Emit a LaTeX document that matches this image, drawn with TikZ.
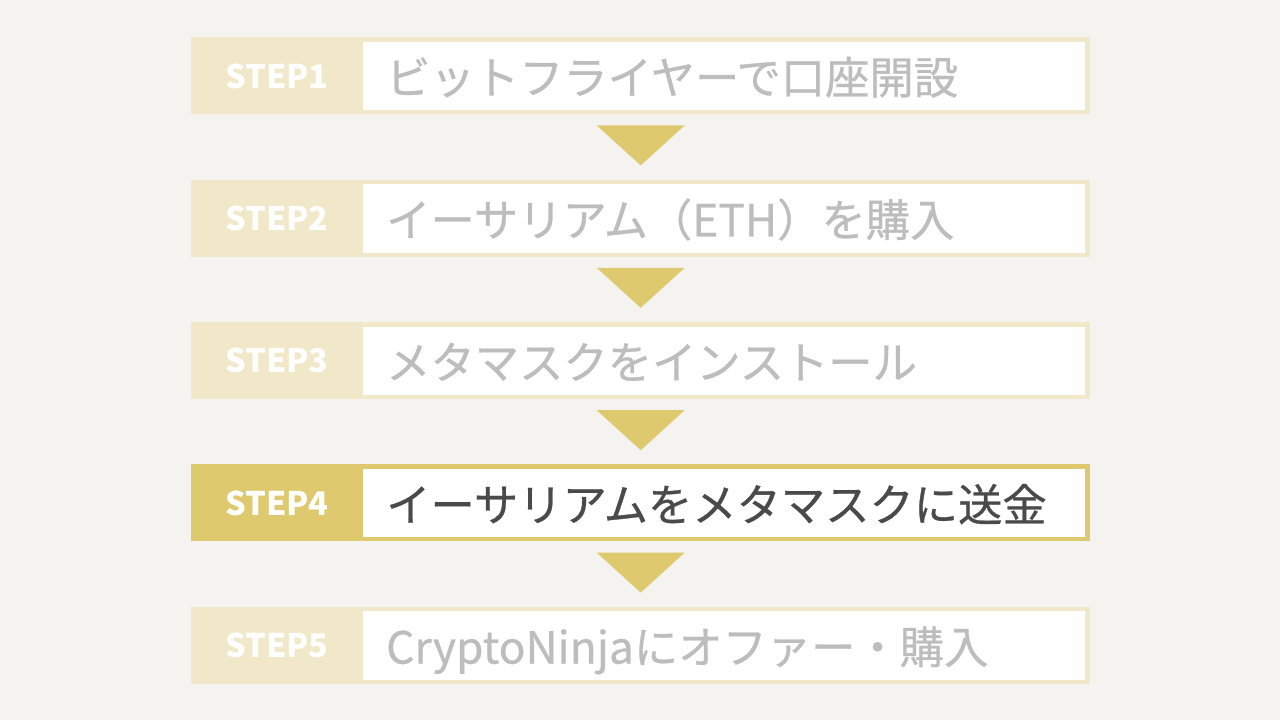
\documentclass[tikz,border=0pt]{standalone}
\usepackage{fontspec}
\setmainfont{Noto Sans CJK JP}
\newfontfamily\stepfont[FakeBold=0.6]{Noto Sans CJK JP}
\usetikzlibrary{positioning}
\definecolor{bgcol}{HTML}{F4F3EF}
\definecolor{palegold}{HTML}{F0E8C8}
\definecolor{gold}{HTML}{DEC96E}
\definecolor{greytext}{HTML}{BDBDBD}
\definecolor{darktext}{HTML}{4A4A4A}

\begin{document}
\begin{tikzpicture}[x=1pt,y=-1pt,
  stepbar/.style={fill=#1, minimum width=899pt, minimum height=77pt, inner sep=0pt, anchor=north west},
  stepbox/.style={fill=white, minimum width=722pt, minimum height=68.5pt, inner sep=0pt, anchor=north west},
  steplabel/.style={text=white, font=\fontsize{32.5}{38}\selectfont\bfseries, anchor=base, inner sep=0pt},
  steptext/.style={text=#1, font=\fontsize{44.3}{50}\selectfont\stepfont, anchor=base west, inner sep=0pt},
  downarrow/.style={fill=gold}]

% background
\fill[bgcol] (0,0) rectangle (1280,720);

% bars
\node[stepbar=palegold] (bar1) at (191,37) {};
\node[stepbar=palegold, below=65pt of bar1] (bar2) {};
\node[stepbar=palegold, below=65pt of bar2] (bar3) {};
\node[stepbar=gold, below=65pt of bar3] (bar4) {};
\node[stepbar=palegold, below=65pt of bar4] (bar5) {};

% white boxes
\node[stepbox] (box1) at ([xshift=172pt,yshift=-4.5pt]bar1.north west) {};
\node[stepbox] (box2) at ([xshift=172pt,yshift=-4.5pt]bar2.north west) {};
\node[stepbox] (box3) at ([xshift=172pt,yshift=-4.5pt]bar3.north west) {};
\node[stepbox] (box4) at ([xshift=172pt,yshift=-4.5pt]bar4.north west) {};
\node[stepbox] (box5) at ([xshift=172pt,yshift=-4.5pt]bar5.north west) {};

% step labels
\node[steplabel] (lab1) at ([xshift=86pt,yshift=-51pt]bar1.north west) {STEP1};
\node[steplabel] (lab2) at ([xshift=86pt,yshift=-51pt]bar2.north west) {STEP2};
\node[steplabel] (lab3) at ([xshift=86pt,yshift=-51pt]bar3.north west) {STEP3};
\node[steplabel] (lab4) at ([xshift=86pt,yshift=-51pt]bar4.north west) {STEP4};
\node[steplabel] (lab5) at ([xshift=86pt,yshift=-51pt]bar5.north west) {STEP5};

% texts
\node[steptext=greytext] (txt1) at ([xshift=23pt,yshift=-52.5pt]box1.north west) {ビットフライヤーで口座開設};
\node[steptext=greytext] (txt2) at ([xshift=23pt,yshift=-52.5pt]box2.north west) {イーサリアム（ETH）を購入};
\node[steptext=greytext] (txt3) at ([xshift=23pt,yshift=-52.5pt]box3.north west) {メタマスクをインストール};
\node[steptext=darktext] (txt4) at ([xshift=23pt,yshift=-52.5pt]box4.north west) {イーサリアムをメタマスクに送金};
\node[steptext=greytext] (txt5) at ([xshift=23pt,yshift=-52.5pt]box5.north west) {CryptoNinjaにオファー・購入};

% arrows
\fill[downarrow] ([xshift=-44pt,yshift=-11pt]bar1.south) -- ([xshift=44pt,yshift=-11pt]bar1.south) -- ([yshift=-51pt]bar1.south) -- cycle;
\fill[downarrow] ([xshift=-44pt,yshift=-11pt]bar2.south) -- ([xshift=44pt,yshift=-11pt]bar2.south) -- ([yshift=-51pt]bar2.south) -- cycle;
\fill[downarrow] ([xshift=-44pt,yshift=-11pt]bar3.south) -- ([xshift=44pt,yshift=-11pt]bar3.south) -- ([yshift=-51pt]bar3.south) -- cycle;
\fill[downarrow] ([xshift=-44pt,yshift=-11pt]bar4.south) -- ([xshift=44pt,yshift=-11pt]bar4.south) -- ([yshift=-51pt]bar4.south) -- cycle;

\end{tikzpicture}
\end{document}
